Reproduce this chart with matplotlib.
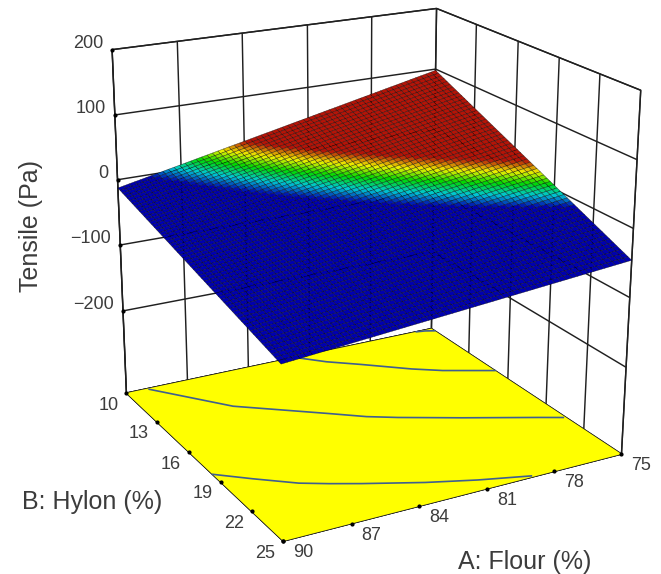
import matplotlib
matplotlib.use("Agg")
import matplotlib.pyplot as plt
import numpy as np
from matplotlib.colors import LinearSegmentedColormap
from mpl_toolkits.mplot3d import proj3d

plt.rcParams.update({
    "font.family": ["Liberation Sans", "DejaVu Sans"],
    "grid.color": "#202020",
    "grid.linewidth": 1.05,
    "axes.unicode_minus": True})

A_ticks = [75, 78, 81, 84, 87, 90]
B_ticks = [10, 13, 16, 19, 22, 25]
Z_ticks = [-200, -100, 0, 100, 200]
Z_floor = -326

# where the reference really puts its ticks: evenly on screen, so not quite
# where a true perspective would
A_tick_pos = [75, 78.2, 81.27, 84.28, 87.18, 90]
B_tick_pos = [10, 13.3, 16.55, 19.55, 22.35, 25]
Z_tick_pos = [-194, -91, 8.5, 105, 200]

# Tensile read along the back edges of the surface, one value per mesh line
# along B = 10, from A = 75 to A = 90
tensile_b10 = np.array([
    103.0, 101.2, 99.4, 97.7, 95.9, 94.1, 92.3, 90.5, 88.7, 87.0, 85.2, 83.4,
    81.6, 79.8, 78.0, 76.3, 74.5, 72.7, 70.9, 69.1, 67.3, 65.6, 63.8, 62.0,
    60.2, 58.4, 56.6, 54.9, 53.1, 51.3, 49.5, 47.7, 45.9, 44.2, 42.4, 40.6,
    38.8, 37.0, 35.2, 33.5, 31.7, 29.9, 28.1, 26.3, 24.5, 22.8, 21.0, 19.2,
    17.4, 15.6, 13.8, 12.1, 10.3, 8.5, 6.7, 4.9, 3.1, 1.4, -0.4, -2.2, -4.0])
# along A = 75, from B = 10 to B = 25
tensile_a75 = np.array([
    103.0, 100.7, 98.3, 96.0, 93.7, 91.3, 89.0, 86.7, 84.3, 82.0, 79.7, 77.3,
    75.0, 72.7, 70.3, 68.0, 65.7, 63.3, 61.0, 58.7, 56.3, 54.0, 51.7, 49.3,
    47.0, 44.7, 42.3, 40.0, 37.7, 35.3, 33.0, 30.7, 28.3, 26.0, 23.7, 21.3,
    19.0, 16.7, 14.3, 12.0, 9.7, 7.3, 5.0, 2.7, 0.3, -2.0, -4.3, -6.7,
    -9.0, -11.3, -13.7, -16.0, -18.3, -20.7, -23.0, -25.3, -27.7, -30.0,
    -32.3, -34.7, -37.0])
tensile_offset = 131

# Contours on the floor (A, B)
contour_1_a = [82.0, 81.0, 79.8, 78.1, 77.0, 75.0]
contour_1_b = [10.0, 11.1, 12.1, 13.6, 14.4, 15.5]
contour_2_a = [89.0, 86.6, 85.0, 83.4, 82.2, 81.1, 78.8, 76.0, 75.1]
contour_2_b = [10.1, 13.4, 14.7, 16.0, 17.0, 17.7, 19.0, 20.5, 21.0]
contour_3_a = [90.0, 88.8, 87.4, 86.4, 85.3, 83.1, 81.2, 79.2]
contour_3_b = [18.8, 19.9, 21.1, 21.7, 22.3, 23.4, 24.2, 24.9]
contour_4_a = [75.8, 75.4, 75.0]
contour_4_b = [10.0, 10.1, 10.3]

A_grid = np.arange(75, 90.25, 0.25)
B_grid = np.arange(10, 25.25, 0.25)
X, Y = np.meshgrid(A_grid, B_grid)
Z = np.outer(tensile_a75 + tensile_offset, tensile_b10 + tensile_offset) / (103 + tensile_offset) - tensile_offset

surface_cmap = LinearSegmentedColormap.from_list(
    "tensile", ["#0000b0", "#00c8d2", "#00d800", "#f0f000", "#b41408"])

fig = plt.figure(figsize=(6.61, 5.74), dpi=100)
ax = fig.add_axes([71.801 / 661, 27.573 / 574, 574 / 661, 1], projection="3d")
ax.computed_zorder = False
ax.set_xlim(75, 90)
ax.set_ylim(10, 25)
ax.set_zlim(Z_floor, 200)
ax.view_init(elev=20.266, azim=61.036, roll=-0.219)
ax.set_proj_type("persp", focal_length=0.644)
ax.set_box_aspect((1, 0.986, 0.996), zoom=1.100)

ax.set_xticks(A_tick_pos)
ax.set_yticks(B_tick_pos)
ax.set_zticks(Z_tick_pos)
ax.set_xticklabels([])
ax.set_yticklabels([])
ax.set_zticklabels([])
for axis in (ax.xaxis, ax.yaxis, ax.zaxis):
    axis.set_pane_color("white")
    axis.pane.set_edgecolor("#202020")
    axis.line.set_color("#202020")
    axis._axinfo["tick"]["inward_factor"] = 0
    axis._axinfo["tick"]["outward_factor"] = 0

# floor
floor_x, floor_y = np.meshgrid([75, 90], [10, 25])
ax.plot_surface(floor_x, floor_y, np.full((2, 2), Z_floor), color="#ffff00",
                shade=False, linewidth=0, zorder=1)
for ca, cb in ((contour_1_a, contour_1_b), (contour_2_a, contour_2_b),
               (contour_3_a, contour_3_b), (contour_4_a, contour_4_b)):
    ax.plot(ca, cb, zs=Z_floor, color="#3f5f90", lw=1.2, zorder=2)

# response surface, colour band slides a bit towards B = 25 as in the reference
colors = surface_cmap(np.clip((Z - 7 + 0.6 * (Y - 10)) / 31, 0, 1))
surf = ax.plot_surface(X, Y, Z, facecolors=colors, rcount=61, ccount=61,
                       shade=False, zorder=3)
surf.set_edgecolor((0, 0, 0, 0.65))
surf.set_linewidth(0.35)

# tick dots and labels
M = ax.get_proj()
text_color = "#3c3c3c"
def label(a, b, z, txt, dx, dy, ha="center"):
    x2, y2, _ = proj3d.proj_transform(a, b, z, M)
    ax.plot([a], [b], [z], "o", color="black", ms=2, zorder=4)
    ax.annotate(txt, xy=(x2, y2), xytext=(dx, dy), textcoords="offset pixels",
                ha=ha, va="center", fontsize=13, color=text_color,
                annotation_clip=False)

for a, t in zip(A_tick_pos, A_ticks):
    label(a, 25, Z_floor, str(t), 20, -11.5)
for b, t in zip(B_tick_pos, B_ticks):
    label(90, b, Z_floor, str(t), -18, -12)
for z, t in zip(Z_tick_pos, Z_ticks):
    label(90, 10, z, str(t).replace("-", "\u2212"), -9, 6.5, ha="right")

fig.text(31 / 661, 1 - 226 / 574, "Tensile (Pa)", rotation=90, ha="center",
         va="center", fontsize=18, color=text_color)
fig.text(92 / 661, 1 - 502 / 574, "B: Hylon (%)", ha="center", va="center",
         fontsize=18, color=text_color)
fig.text(525 / 661, 1 - 562 / 574, "A: Flour (%)", ha="center", va="center",
         fontsize=18, color=text_color)

fig.savefig("out.png", dpi=100)
